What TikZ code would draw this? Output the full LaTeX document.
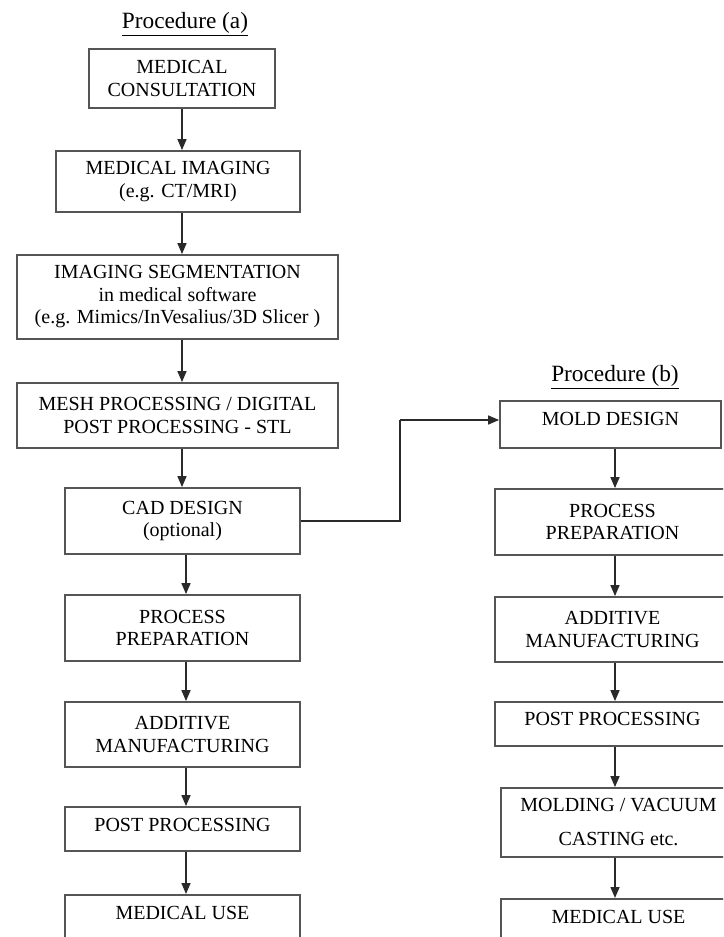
\documentclass[tikz,border=0pt]{standalone}
\usepackage{fontspec}
\setmainfont{Liberation Serif}
\usetikzlibrary{arrows.meta}
\definecolor{boxgray}{HTML}{555555}
\definecolor{arrgray}{HTML}{2A2A2A}
\begin{document}
\begin{tikzpicture}[x=1pt,y=-1pt,
  box/.style={draw=boxgray, line width=1.8pt, rectangle, inner sep=0pt, align=center,
              font=\fontsize{20}{22.5}\selectfont, text=black},
  arr/.style={draw=arrgray, line width=1.5pt, -{Triangle[length=11pt,width=9pt]}},
  conn/.style={draw=arrgray, line width=1.5pt},
  ttl/.style={font=\fontsize{23.3}{27}\selectfont, inner sep=0pt}]
\useasboundingbox (0,0) rectangle (723,937);
\clip (0,0) rectangle (723,937);

% titles
\node[ttl] (ta) at (185,24) {\underline{Procedure (a)}};
\node[ttl] (tb) at (615,377) {\underline{Procedure (b)}};

% procedure (a)
\node[box, minimum width=186pt, minimum height=59pt] (a1) at (182,78.5) {MEDICAL\\CONSULTATION};
\node[box, minimum width=244pt, minimum height=61pt] (a2) at (178,181.5) {MEDICAL IMAGING\\(e.g. CT/MRI)};
\node[box, minimum width=321pt, minimum height=84pt] (a3) at (177.5,297) {IMAGING SEGMENTATION\\in medical software\\(e.g. Mimics/InVesalius/3D Slicer )};
\node[box, minimum width=321pt, minimum height=65pt] (a4) at (177.5,415.5) {MESH PROCESSING / DIGITAL\\POST PROCESSING - STL};
\node[box, minimum width=235pt, minimum height=66pt] (a5) at (182.5,521) {CAD DESIGN\\(optional)};
\node[box, minimum width=235pt, minimum height=66pt] (a6) at (182.5,628) {PROCESS\\PREPARATION};
\node[box, minimum width=235pt, minimum height=65pt] (a7) at (182.5,734.5) {ADDITIVE\\MANUFACTURING};
\node[box, minimum width=235pt, minimum height=44pt, text depth=9pt] (a8) at (182.5,829) {POST PROCESSING};
\node[box, minimum width=235pt, anchor=north, inner ysep=11pt, text depth=40pt] (a9) at (182.5,894) {MEDICAL USE};

% procedure (b)
\node[box, minimum width=221pt, minimum height=47pt, text depth=11pt] (b1) at (610.5,424.5) {MOLD DESIGN};
\node[box, minimum width=235pt, minimum height=66pt] (b2) at (612.5,522) {PROCESS\\PREPARATION};
\node[box, minimum width=235pt, minimum height=65pt] (b3) at (612.5,629.5) {ADDITIVE\\MANUFACTURING};
\node[box, minimum width=235pt, minimum height=44pt, text depth=10pt] (b4) at (612.5,724) {POST PROCESSING};
\node[box, minimum width=235pt, minimum height=69pt] (b5) at (618.5,822.5) {MOLDING / VACUUM\\[11.5pt]CASTING etc.};
\node[box, minimum width=235pt, anchor=north, inner ysep=11pt, text depth=40pt] (b6) at (618.5,898) {MEDICAL USE};

% guide coordinates for arrow columns
\coordinate (xa) at (182,0);
\coordinate (xb) at (186,0);
\coordinate (xr) at (615,0);
\coordinate (j) at (400,420);

% arrows (a)
\draw[arr] (a1.south -| xa) -- (a2.north -| xa);
\draw[arr] (a2.south -| xa) -- (a3.north -| xa);
\draw[arr] (a3.south -| xa) -- (a4.north -| xa);
\draw[arr] (a4.south -| xa) -- (a5.north -| xa);
\draw[arr] (a5.south -| xb) -- (a6.north -| xb);
\draw[arr] (a6.south -| xb) -- (a7.north -| xb);
\draw[arr] (a7.south -| xb) -- (a8.north -| xb);
\draw[arr] (a8.south -| xb) -- (a9.north -| xb);

% arrows (b)
\draw[arr] (b1.south -| xr) -- (b2.north -| xr);
\draw[arr] (b2.south -| xr) -- (b3.north -| xr);
\draw[arr] (b3.south -| xr) -- (b4.north -| xr);
\draw[arr] (b4.south -| xr) -- (b5.north -| xr);
\draw[arr] (b5.south -| xr) -- (b6.north -| xr);

% branch connector
\draw[conn] (a5.east) -| (j);
\draw[arr] (j) -- (j -| b1.west);
\end{tikzpicture}
\end{document}
